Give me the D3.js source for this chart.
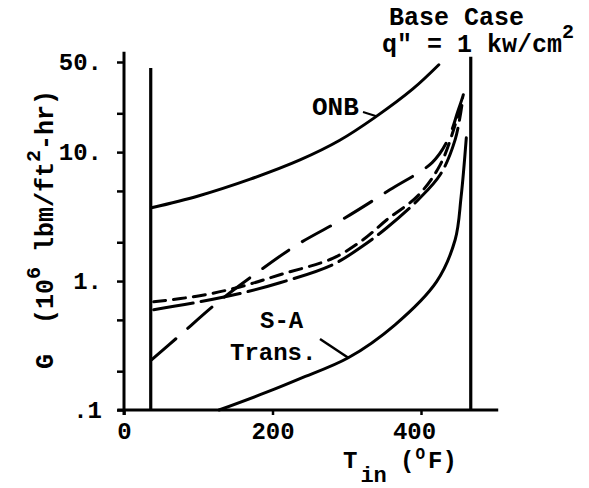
<!DOCTYPE html>
<html>
<head>
<meta charset="utf-8">
<script src="https://cdn.jsdelivr.net/npm/d3@7"></script>
<style>
  body { margin: 0; background: #fff; }
  svg text { font-family: "Liberation Mono", "DejaVu Sans Mono", monospace; font-weight: bold; fill: #000; white-space: pre; }
</style>
</head>
<body>
<div id="chart"></div>
<script>
// curves (T_in in F, G in 10^6 lbm/ft2-hr)
var onbT = [37, 100, 170, 237, 290, 338, 389, 424];
var onbG = [3.7, 4.57, 6.17, 8.7, 12.3, 18.6, 30.9, 47.6];

var saT = [128, 193, 237, 302, 365, 421, 446, 454, 461];
var saG = [0.1, 0.138, 0.175, 0.254, 0.458, 0.99, 2.09, 4.5, 12.9];

// long dash
var longT = [37, 73, 127, 179, 233, 298, 358, 415, 436, 450, 459];
var longG = [0.245, 0.37, 0.69, 1.16, 1.91, 3.1, 5.1, 8.3, 12.4, 21, 30];

// short dash
var shortT = [40, 102, 156, 210, 281, 322, 354, 396, 426, 446, 457];
var shortG = [0.69, 0.77, 0.90, 1.12, 1.50, 2.09, 2.99, 4.6, 8.0, 16.3, 27.9];

// medium dash
var medT = [40, 102, 156, 210, 281, 322, 354, 396, 426, 446, 455];
var medG = [0.60, 0.69, 0.80, 0.97, 1.34, 1.88, 2.59, 4.26, 6.7, 12.5, 23];

// vertical limit lines
var limitT = [36, 467];
var limitTop = [45, 55];

var xTicks = [0, 200, 400];
var xTickLabels = ["0", "200", "400"];
var yTicks = [0.1, 0.2, 0.5, 1, 2, 5, 10, 20, 50];
var yTickLabels = [".1", "", "", "1.", "", "", "10.", "", "50."];

var svg = d3.select("#chart").append("svg")
    .attr("width", 589)
    .attr("height", 488);

var x = d3.scaleLinear().domain([0, 400]).range([124, 421]);
var y = d3.scaleLog().domain([0.1, 50]).range([410, 62]);

function pts(ts, gs) {
  return ts.map(function (t, i) { return [t, gs[i]]; });
}

var line = d3.line()
    .x(function (d) { return x(d[0]); })
    .y(function (d) { return y(d[1]); })
    .curve(d3.curveCatmullRom.alpha(0.5));

// axes
var yAxis = svg.append("g")
    .attr("transform", "translate(" + x(0) + ",0)")
    .call(d3.axisLeft(y).tickValues(yTicks).tickSize(7).tickPadding(15)
      .tickFormat(function (d, i) { return yTickLabels[i]; }));
yAxis.select(".domain").remove();
yAxis.selectAll("line").attr("stroke-width", 2.5);
yAxis.selectAll("text").attr("font-size", 24).attr("font-family", null);

var xAxis = svg.append("g")
    .attr("transform", "translate(0," + y(0.1) + ")")
    .call(d3.axisBottom(x).tickValues(xTicks).tickSize(5).tickPadding(7)
      .tickFormat(function (d, i) { return xTickLabels[i]; }));
xAxis.select(".domain").remove();
xAxis.selectAll("line").attr("stroke-width", 2.5);
xAxis.selectAll("text").attr("font-size", 24).attr("font-family", null)
    .attr("dx", function (d) { return d === 400 ? -7 : 0; });

svg.append("line")
    .attr("x1", x(0)).attr("x2", x(0))
    .attr("y1", y(60)).attr("y2", y(0.1) + 5)
    .attr("stroke", "#000").attr("stroke-width", 3);
svg.append("line")
    .attr("x1", x(-9)).attr("x2", x(504))
    .attr("y1", y(0.1)).attr("y2", y(0.1))
    .attr("stroke", "#000").attr("stroke-width", 3);

// limit lines
limitT.forEach(function (t, i) {
  svg.append("line")
      .attr("x1", x(t)).attr("x2", x(t))
      .attr("y1", y(limitTop[i])).attr("y2", y(0.1))
      .attr("stroke", "#000").attr("stroke-width", 3.2);
});

function curve(ts, gs, dash) {
  svg.append("path")
      .datum(pts(ts, gs))
      .attr("fill", "none")
      .attr("stroke", "#000")
      .attr("stroke-width", 3)
      .attr("stroke-linecap", "round")
      .attr("stroke-dasharray", dash)
      .attr("d", line);
}

curve(onbT, onbG, null);
curve(saT, saG, null);
curve(longT, longG, "32,16");
curve(shortT, shortG, "12,8");
curve(medT, medG, "40,8");

// pointers
svg.append("line")
    .attr("x1", 363).attr("y1", 112)
    .attr("x2", x(340)).attr("y2", y(19))
    .attr("stroke", "#000").attr("stroke-width", 2);
svg.append("line")
    .attr("x1", 320).attr("y1", 339)
    .attr("x2", x(302)).attr("y2", y(0.254))
    .attr("stroke", "#000").attr("stroke-width", 2.5);

// labels
svg.append("text").attr("x", 312).attr("y", 115).attr("font-size", 26).text("ONB");
svg.append("text").attr("x", 260).attr("y", 328).attr("font-size", 24).text("S-A");
svg.append("text").attr("x", 230).attr("y", 360).attr("font-size", 24).text("Trans.");

svg.append("text").attr("x", 389).attr("y", 25).attr("font-size", 25).text("Base Case");
var q = svg.append("text").attr("x", 382).attr("y", 52).attr("font-size", 25);
q.append("tspan").text("q\" = 1 kw/cm");
q.append("tspan").attr("font-size", 20).attr("dy", -14).text("2");

// x label
var xl = svg.append("text").attr("x", 343).attr("y", 468).attr("font-size", 24);
xl.append("tspan").text("T");
xl.append("tspan").attr("font-size", 22).attr("dx", 3).attr("dy", 14).text("in");
xl.append("tspan").attr("x", 400).attr("dy", -14).text("(");
xl.append("tspan").attr("font-size", 16).attr("dx", 1).attr("dy", -9).text("O");
xl.append("tspan").attr("dx", 3).attr("dy", 9).text("F)");

// y label
var yl = svg.append("text")
    .attr("transform", "translate(53,369) rotate(-90)")
    .attr("font-size", 25);
yl.append("tspan").text("G  (10");
yl.append("tspan").attr("font-size", 20).attr("dy", -13).text("6");
yl.append("tspan").attr("dy", 13).text(" lbm/ft");
yl.append("tspan").attr("font-size", 20).attr("dy", -13).text("2");
yl.append("tspan").attr("dy", 13).text("-hr)");
</script>
</body>
</html>
